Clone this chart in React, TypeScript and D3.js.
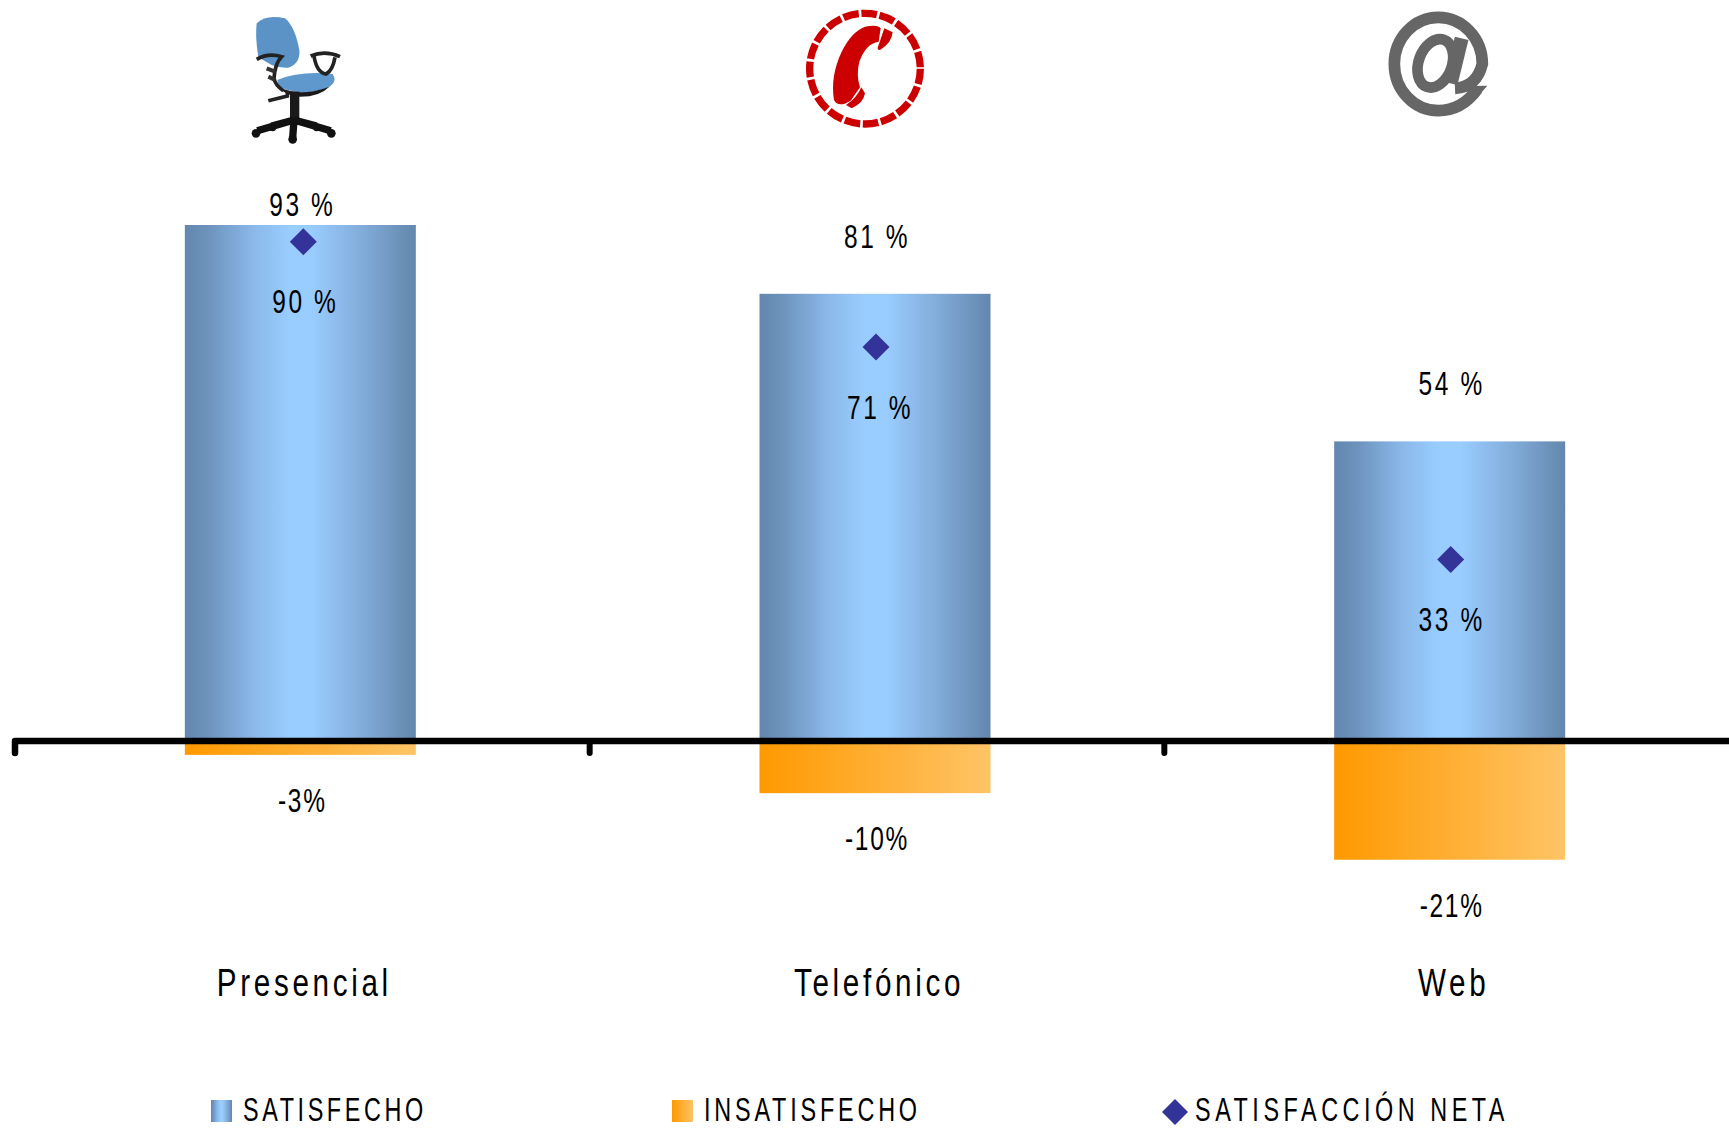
import React from "react";
import * as d3 from "d3";

const categories = ["Presencial", "Telefónico", "Web"];
const satisfecho = [93, 80.6, 54];
const satisfechoLabels = ["93 %", "81 %", "54 %"];
const insatisfecho = [-2.5, -9.4, -21.4];
const insatisfechoLabels = ["-3%", "-10%", "-21%"];
const neta = [90, 71, 32.7];
const netaLabels = ["90 %", "71 %", "33 %"];
const seriesNames = ["SATISFECHO", "INSATISFECHO", "SATISFACCIÓN NETA"];

const W = 1729, H = 1128;
const FONT = "'Liberation Sans',sans-serif";
const SX = 0.72;

const x = d3.scaleBand<string>().domain(categories).range([13, 1737]);
const y = d3.scaleLinear().domain([0, 93]).range([741, 225]);
const BAR_W = 231;

function Diamond({ cx, cy, r }: { cx: number; cy: number; r: number }) {
  return <polygon points={`${cx - r},${cy} ${cx},${cy - r} ${cx + r},${cy} ${cx},${cy + r}`} fill="#333399" />;
}

function Label({ x, y, children, size = 34, spacing = 3.6, sx = SX, anchor = "middle" }: any) {
  return (
    <text transform={`translate(${x},${y}) scale(${sx},1)`} textAnchor={anchor} dominantBaseline="central" fontFamily={FONT} fontSize={size} letterSpacing={spacing} fill="#000">
      {children}
    </text>
  );
}

function Chair() {
  return (
    <g transform="translate(200,0) scale(0.3333)">
      <path d="M170,70 Q200,42 255,55 Q285,80 298,150 Q302,190 265,203 Q240,205 215,195 L175,172 Q165,110 170,70Z" fill="#5b93c7" />
      <path d="M232,240 Q300,212 398,222 Q414,245 385,262 Q320,288 262,270 Q232,260 232,240Z" fill="#5f98cc" />
      <path d="M238,262 Q300,292 388,260 Q360,290 300,290 Q255,288 238,262Z" fill="#1a1a1a" />
      <path d="M170,178 Q205,158 245,170 Q225,190 222,235 Q225,255 250,272" fill="none" stroke="#222" strokeWidth="11" />
      <path d="M200,205 L225,215 M205,230 L225,240" fill="none" stroke="#333" strokeWidth="12" />
      <path d="M332,168 Q375,150 420,170 M342,168 Q350,218 378,222 Q398,212 405,172" fill="none" stroke="#222" strokeWidth="11" />
      <path d="M205,302 L262,288 L262,272" fill="none" stroke="#222" strokeWidth="11" />
      <rect x="270" y="275" width="28" height="85" fill="#1a1a1a" />
      <path d="M282,360 L172,392 M282,360 L392,392 M282,360 L278,415 M282,360 L215,378 M282,360 L350,378" stroke="#111" strokeWidth="22" fill="none" />
      <circle cx="168" cy="400" r="13" fill="#111" />
      <circle cx="394" cy="400" r="13" fill="#111" />
      <circle cx="278" cy="418" r="13" fill="#111" />
      <circle cx="218" cy="384" r="10" fill="#111" />
      <circle cx="350" cy="384" r="10" fill="#111" />
    </g>
  );
}

function Phone() {
  return (
    <g transform="translate(780,0) scale(0.3333)" fill="#cc0000">
      <circle cx="255" cy="206" r="166" fill="none" stroke="#cc0000" strokeWidth="22" strokeDasharray="47 8" />
      <path d="M255,80 Q295,72 302,85 L296,125 Q258,130 238,185 Q228,225 240,262 L212,302 Q175,325 162,300 Q150,230 185,155 Q215,95 255,80Z" />
      <path d="M313,85 L338,97 Q335,130 300,150 Q288,150 296,135Z" />
      <path d="M244,262 L255,280 Q250,310 215,325 L198,315 Q230,295 244,262Z" />
    </g>
  );
}

function At() {
  return (
    <g transform="translate(1360,0) scale(0.3333)" fill="none" stroke="#666666">
      <path d="M285,265 Q350,262 367,192 A132,140 0 1 0 235,332 Q305,332 352,268" strokeWidth="35" />
      <path d="M335,258 L382,257 L345,300Z" fill="#666666" stroke="none" />
      <ellipse cx="226" cy="190" rx="50" ry="75" transform="rotate(20 226 190)" strokeWidth="32" />
      <path d="M305,115 L272,250" strokeWidth="42" />
    </g>
  );
}

export default function App() {
  const c = (name: string) => x(name)! + x.bandwidth() / 2;
  const ticks = categories.map((d) => x(d)! + 2);
  return (
    <svg width={W} height={H} viewBox={`0 0 ${W} ${H}`} style={{ position: "absolute", left: 0, top: 0, display: "block", background: "#fff" }}>
      <defs>
        <linearGradient id="blue" x1="0" x2="1" y1="0" y2="0">
          <stop offset="0" stopColor="#6387AD" />
          <stop offset="0.1" stopColor="#6D93BD" />
          <stop offset="0.3" stopColor="#8BB9EA" />
          <stop offset="0.45" stopColor="#99CCFF" />
          <stop offset="0.55" stopColor="#99CCFF" />
          <stop offset="0.75" stopColor="#84AFDD" />
          <stop offset="1" stopColor="#6387AD" />
        </linearGradient>
        <linearGradient id="orange" x1="0" x2="1" y1="0" y2="0">
          <stop offset="0" stopColor="#FF9900" />
          <stop offset="1" stopColor="#FFC466" />
        </linearGradient>
      </defs>

      <Chair />
      <Phone />
      <At />

      {categories.map((cat, i) => (
        <g key={cat}>
          <rect x={c(cat) - BAR_W / 2} width={BAR_W} y={y(satisfecho[i])} height={y(0) - y(satisfecho[i])} fill="url(#blue)" />
          <rect x={c(cat) - BAR_W / 2} width={BAR_W} y={y(0)} height={y(insatisfecho[i]) - y(0)} fill="url(#orange)" />
        </g>
      ))}

      <path d={`M${W},${y(0)}H${ticks[0]}V${y(0) + 12}`} fill="none" stroke="#000" strokeWidth={6.5} strokeLinejoin="round" strokeLinecap="round" />
      {ticks.slice(1).map((t) => (
        <line key={t} x1={t} x2={t} y1={y(0)} y2={y(0) + 12} stroke="#000" strokeWidth={6} strokeLinecap="round" />
      ))}

      {categories.map((cat, i) => (
        <g key={cat}>
          <Diamond cx={c(cat) + (i === 0 ? 3 : 1)} cy={y(neta[i])} r={13.5} />
          <Label x={c(cat) + 2} y={Math.max(y(satisfecho[i]) - 58, 204)}>{satisfechoLabels[i]}</Label>
          <Label x={c(cat) + (i === 2 ? 2 : 5)} y={y(neta[i]) + 59.5}>{netaLabels[i]}</Label>
          <Label x={c(cat) + 2} y={y(insatisfecho[i]) + 45} spacing={2.4}>{insatisfechoLabels[i]}</Label>
          <Label x={c(cat) + 4} y={983} size={38} spacing={4.7} sx={0.78}>{cat}</Label>
        </g>
      ))}

      <rect x={211} y={1100} width={21} height={22} fill="url(#blue)" />
      <Label x={243} y={1110} size={32.5} spacing={5} anchor="start">{seriesNames[0]}</Label>
      <rect x={672} y={1100} width={21} height={22} fill="url(#orange)" />
      <Label x={704} y={1110} size={32.5} spacing={5.3} anchor="start">{seriesNames[1]}</Label>
      <Diamond cx={1175} cy={1112} r={13} />
      <Label x={1195} y={1110} size={32.5} spacing={6.3} anchor="start">{seriesNames[2]}</Label>
    </svg>
  );
}
